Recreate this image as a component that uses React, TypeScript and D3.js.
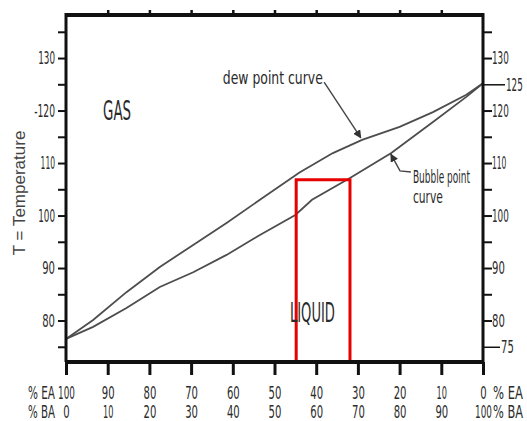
import React, { useEffect, useRef } from "react";
import * as d3 from "d3";

// composition is % ethyl acetate (EA), temperature on y
const dewEA = [100, 93.5, 85.5, 77.5, 69.5, 61.5, 53.5, 44, 36, 29, 20, 12, 4, 0];
const dewT = [76.5, 80.1, 85.4, 90.2, 94.4, 98.6, 103.0, 108.2, 111.9, 114.4, 116.9, 119.7, 123.0, 125.2];
const bubbleEA = [100, 93.5, 85.5, 77.5, 69.5, 61.5, 53.5, 45, 41, 32, 22, 12, 4, 0];
const bubbleT = [76.5, 78.8, 82.4, 86.4, 89.2, 92.5, 96.3, 100.1, 103.0, 107.1, 111.9, 117.8, 122.6, 125.2];

// red tie line between the two curves
const tieEA = [44.8, 31.9];
const tieT = 106.8;

const eaTicks = [100, 90, 80, 70, 60, 50, 40, 30, 20, 10, 0];
const eaLabels = ["100", "90", "80", "70", "60", "50", "40", "30", "20", "10", "0"];
const baLabels = ["0", "10", "20", "30", "40", "50", "60", "70", "80", "90", "100"];
const topTicks = [90, 80, 70, 60, 50, 40, 30, 20, 10];

const majorT = [80, 90, 100, 110, 120, 130];
const leftLabels = ["80", "90", "100", "110", "-120", "130"];
const rightLabels = ["80", "90", "100", "110", "120", "130"];
const minorT = [75, 85, 95, 105, 115, 125, 135];
const markedT = [75, 125];
const markedLabels = ["75", "125"];

const W = 527;
const H = 421;
const NARROW = "'Liberation Sans Narrow', 'DejaVu Sans Condensed', 'Liberation Sans', sans-serif";

// rough glyph widths of the very condensed font in the picture
const textWidth = (s: string) =>
  s.split("").reduce((w, c) => w + (c === "1" ? 4 : c === "-" ? 4 : 6.4), 0);

const App = () => {
  const svgRef = useRef<SVGSVGElement>(null);

  useEffect(() => {
    const svg = d3.select(svgRef.current);
    svg.selectAll("*").remove();

    const x = d3.scaleLinear().domain([100, 0]).range([66, 483]);
    const y = d3.scaleLinear().domain([72.1, 138.2]).range([362, 15]);
    const [x0, x1] = x.range();
    const [yb, yt] = y.range();

    const styleTicks = (sel: any) =>
      sel
        .attr("fill", "#2b2b2b")
        .style("font-family", NARROW)
        .style("font-size", "18px")
        .each(function (this: SVGTextElement) {
          const s = this.textContent || "";
          if (s) d3.select(this).attr("textLength", textWidth(s)).attr("lengthAdjust", "spacingAndGlyphs");
        });

    svg
      .append("defs")
      .append("marker")
      .attr("id", "ah")
      .attr("viewBox", "0 0 10 10")
      .attr("refX", 9)
      .attr("refY", 5)
      .attr("markerWidth", 6)
      .attr("markerHeight", 6)
      .attr("orient", "auto")
      .append("path")
      .attr("d", "M0,0L10,5L0,10z")
      .attr("fill", "#333");

    // curves
    const line = d3
      .line<[number, number]>()
      .x((d) => x(d[0]))
      .y((d) => y(d[1]));

    const dew = dewEA.map((e, i) => [e, dewT[i]] as [number, number]);
    const bub = bubbleEA.map((e, i) => [e, bubbleT[i]] as [number, number]);

    svg
      .selectAll("path.curve")
      .data([dew, bub])
      .enter()
      .append("path")
      .attr("class", "curve")
      .attr("d", (d) => line(d))
      .attr("fill", "none")
      .attr("stroke", "#4d4d4d")
      .attr("stroke-width", 1.8);

    // red tie line
    const yMin = y.domain()[0];
    const tie: [number, number][] = [
      [tieEA[0], yMin],
      [tieEA[0], tieT],
      [tieEA[1], tieT],
      [tieEA[1], yMin],
    ];
    svg
      .append("path")
      .attr("d", line(tie))
      .attr("fill", "none")
      .attr("stroke", "#e60000")
      .attr("stroke-width", 3);

    // frame
    const frame = svg.append("g").attr("stroke", "#111");
    frame.append("line").attr("x1", x0 - 1).attr("x2", x1 + 1).attr("y1", yt).attr("y2", yt).attr("stroke-width", 4);
    frame.append("line").attr("x1", x0 - 1).attr("x2", x1 + 1).attr("y1", yb).attr("y2", yb).attr("stroke-width", 4);
    frame.append("line").attr("x1", x0).attr("x2", x0).attr("y1", yt - 2).attr("y2", yb).attr("stroke-width", 3);
    frame.append("line").attr("x1", x1).attr("x2", x1).attr("y1", yt - 2).attr("y2", yb).attr("stroke-width", 3);

    // top ticks
    const gTop = svg
      .append("g")
      .attr("transform", `translate(0,${yt})`)
      .call(d3.axisTop(x).tickValues(topTicks).tickSize(5).tickFormat(() => ""));
    gTop.select(".domain").remove();
    gTop.selectAll("line").attr("stroke", "#111").attr("stroke-width", 2.5);

    // bottom axis, two rows of labels
    const gBot = svg
      .append("g")
      .attr("transform", `translate(0,${yb})`)
      .call(
        d3
          .axisBottom(x)
          .tickValues(eaTicks)
          .tickSize(13)
          .tickFormat((d, i) => eaLabels[i])
      );
    gBot.select(".domain").remove();
    gBot.selectAll("line").attr("stroke", "#111").attr("stroke-width", 3);
    gBot.selectAll("text").attr("y", 37).attr("dy", 0).call(styleTicks);

    const gBot2 = svg
      .append("g")
      .attr("transform", `translate(0,${yb})`)
      .call(
        d3
          .axisBottom(x)
          .tickValues(eaTicks)
          .tickSize(0)
          .tickFormat((d, i) => baLabels[i])
      );
    gBot2.select(".domain").remove();
    gBot2.selectAll("line").remove();
    gBot2.selectAll("text").attr("y", 56).attr("dy", 0).call(styleTicks);

    // left axis
    const gLeft = svg
      .append("g")
      .attr("transform", `translate(${x0},0)`)
      .call(
        d3
          .axisLeft(y)
          .tickValues([...minorT, ...majorT])
          .tickSize(8)
          .tickPadding(3)
          .tickFormat((d) => {
            const i = majorT.indexOf(+d);
            return i < 0 ? "" : leftLabels[i];
          })
      );
    gLeft.select(".domain").remove();
    gLeft.selectAll("line").attr("stroke", "#111").attr("stroke-width", 2);
    gLeft.selectAll("text").call(styleTicks);

    // right axis
    const gRight = svg
      .append("g")
      .attr("transform", `translate(${x1},0)`)
      .call(
        d3
          .axisRight(y)
          .tickValues([...minorT.filter((t) => !markedT.includes(t)), ...majorT])
          .tickSize(9)
          .tickPadding(0)
          .tickFormat((d) => {
            const i = majorT.indexOf(+d);
            return i < 0 ? "" : rightLabels[i];
          })
      );
    gRight.select(".domain").remove();
    gRight.selectAll("line").attr("stroke", "#111").attr("stroke-width", 2);
    gRight.selectAll("text").call(styleTicks);

    markedT.forEach((t, i) => {
      const len = t === 125 ? 22 : 17;
      const g = svg
        .append("g")
        .attr("transform", `translate(${x1},0)`)
        .call(
          d3
            .axisRight(y)
            .tickValues([t])
            .tickSize(len)
            .tickPadding(1)
            .tickFormat(() => markedLabels[i])
        );
      g.select(".domain").remove();
      g.selectAll("line").attr("stroke", "#111").attr("stroke-width", 1.5);
      g.selectAll("text").call(styleTicks);
    });

    // axis unit labels
    const unit = (tx: number, ty: number, s: string, w: number) =>
      svg
        .append("text")
        .attr("x", tx)
        .attr("y", ty)
        .attr("fill", "#2b2b2b")
        .attr("textLength", w)
        .attr("lengthAdjust", "spacingAndGlyphs")
        .style("font-family", NARROW)
        .style("font-size", "18px")
        .text(s);
    unit(28, yb + 37, "% EA", 27);
    unit(28, yb + 56, "% BA", 27);
    unit(493, yb + 37, "% EA", 30);
    unit(493, yb + 56, "% BA", 30);

    // y title
    svg
      .append("text")
      .attr("transform", `translate(25,${y(104.3)}) rotate(-90)`)
      .attr("text-anchor", "middle")
      .attr("fill", "#444")
      .style("font-family", "'Liberation Sans', Arial, sans-serif")
      .style("font-size", "17px")
      .text("T = Temperature");

    // region labels and curve notes
    const note = (ea: number, t: number, s: string, size: number, w: number) =>
      svg
        .append("text")
        .attr("x", x(ea))
        .attr("y", y(t))
        .attr("fill", "#2a2a2a")
        .attr("textLength", w)
        .attr("lengthAdjust", "spacingAndGlyphs")
        .style("font-family", NARROW)
        .style("font-size", `${size}px`)
        .text(s);
    note(91.1, 118.2, "GAS", 27, 28);
    note(46.3, 79.7, "LIQUID", 27, 45);
    note(62.4, 125.0, "dew point curve", 18, 100);
    note(16.8, 106.2, "Bubble point", 17, 57);
    note(16.8, 102.4, "curve", 17, 30);

    // arrows
    const arrow = (pts: [number, number][]) =>
      svg
        .append("path")
        .attr("d", line(pts))
        .attr("fill", "none")
        .attr("stroke", "#444")
        .attr("stroke-width", 1.4)
        .attr("marker-end", "url(#ah)");
    arrow([
      [38.1, 125.4],
      [29.3, 114.8],
    ]);
    arrow([
      [17.3, 108.3],
      [19.9, 108.5],
      [22.1, 111.7],
    ]);
  }, []);

  return (
    <svg
      ref={svgRef}
      width={W}
      height={H}
      style={{ position: "absolute", left: 0, top: 0, background: "#fff" }}
    ></svg>
  );
};

export default App;
